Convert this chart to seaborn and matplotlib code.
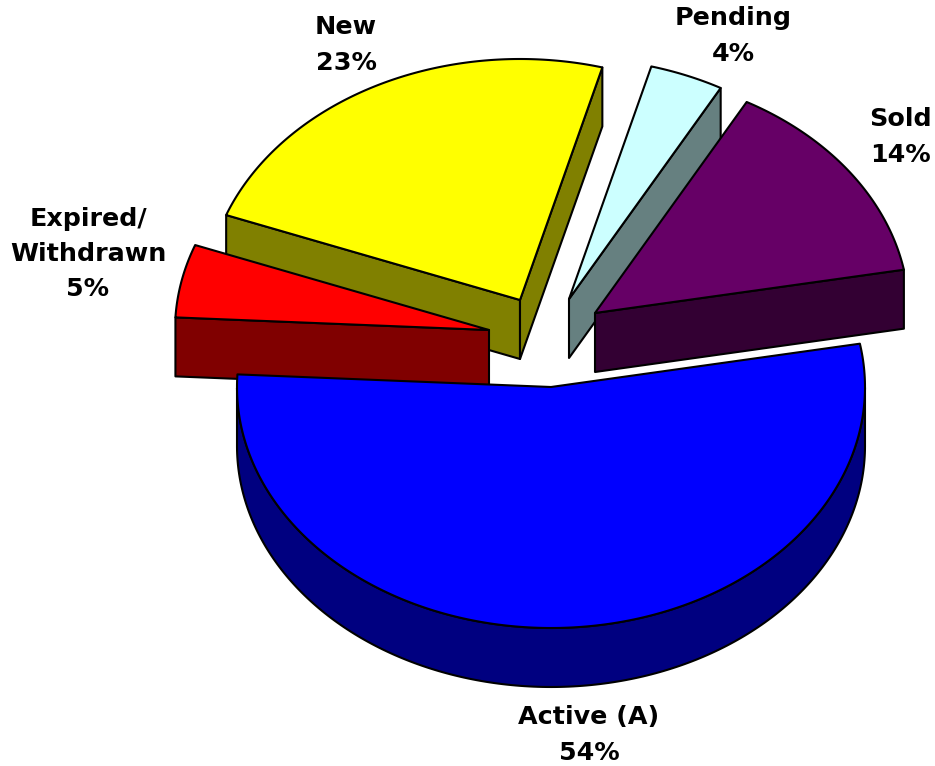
import numpy as np
import pandas as pd
import matplotlib
matplotlib.use("Agg")
import matplotlib.pyplot as plt
from matplotlib.patches import Polygon
import seaborn as sns

# Data (clockwise from the left edge of Active)
categories = ["Expired/\nWithdrawn", "New", "Pending", "Sold", "Active (A)"]
shares = [4.9, 23.49, 3.8, 14.1, 53.71]
top_colors = ["#FF0000", "#FFFF00", "#CCFFFF", "#660066", "#0000FF"]
side_colors = ["#800000", "#808000", "#668080", "#330033", "#000080"]

# Layout of the drawing, in pixels
centers = {"Expired/\nWithdrawn": (489, 330), "New": (520, 300), "Pending": (569, 299),
           "Sold": (595, 313), "Active (A)": (551, 387)}
label_pos = {"Expired/\nWithdrawn": (88, 254), "New": (346, 45), "Pending": (733, 36),
             "Sold": (900, 137), "Active (A)": (589, 735)}
RX, RY, DEPTH = 314, 241, 59
START_ANGLE = 177
draw_order = ["New", "Pending", "Sold", "Expired/\nWithdrawn", "Active (A)"]

sns.set_theme(style="white")
plt.rcParams["font.family"] = ["DejaVu Sans"]

df = pd.DataFrame({"category": categories, "share": shares,
                   "top": top_colors, "side": side_colors}).set_index("category")
total = df["share"].sum()
df["end"] = START_ANGLE - df["share"].cumsum() / total * 360
df["start"] = df["end"] + df["share"] / total * 360

fig = plt.figure(figsize=(9.35, 7.66), dpi=100)
ax = fig.add_axes([0, 0, 1, 1])
ax.set_xlim(0, 935)
ax.set_ylim(766, 0)
ax.axis("off")
LW = 1.5


def project(c, ang):
    a = np.radians(ang)
    return np.column_stack([c[0] + RX * np.cos(a), c[1] - RY * np.sin(a)])


def poly(pts, color, z):
    ax.add_patch(Polygon(pts, closed=True, facecolor=color, edgecolor="black",
                         linewidth=LW, joinstyle="round", zorder=z))


for z, name in enumerate(draw_order):
    row = df.loc[name]
    c = centers[name]
    a0, a1 = row["start"], row["end"]
    base = 10 * z

    # outer rim: only the part of the arc on the lower half of the ellipse
    arc = np.linspace(a0, a1, 240)
    lower = arc[np.sin(np.radians(arc)) < 0]
    if lower.size:
        rim = project(c, lower)
        poly(np.vstack([rim, (rim + [0, DEPTH])[::-1]]), row["side"], base + 1)

    # radial cut faces that turn toward the viewer
    for ang, sign in ((a0, 1), (a1, -1)):
        if np.sin(np.radians(ang + sign * 90)) < 0:
            p = project(c, np.array([ang]))[0]
            poly([c, p, p + [0, DEPTH], (c[0], c[1] + DEPTH)], row["side"], base + 2)

    # top surface
    poly(np.vstack([[c], project(c, arc)]), row["top"], base + 3)

    pct = f"{row['share'] / total * 100:.0f}%"
    ax.text(*label_pos[name], f"{name}\n{pct}", ha="center", va="center",
            fontsize=18.3, fontweight="bold", color="black", linespacing=1.6, zorder=100)

fig.savefig("out.png", dpi=100, facecolor="white")
